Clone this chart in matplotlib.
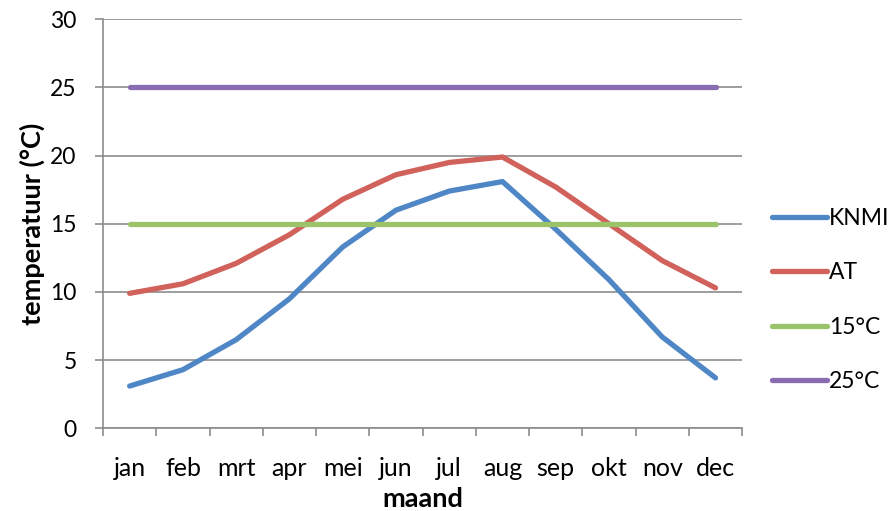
import numpy as np
import matplotlib.pyplot as plt

plt.rcParams["font.family"] = ["Lato", "DejaVu Sans"]

maanden = ["jan", "feb", "mrt", "apr", "mei", "jun", "jul", "aug", "sep", "okt", "nov", "dec"]
knmi = [3.1, 4.3, 6.5, 9.5, 13.3, 16.0, 17.4, 18.1, 14.6, 10.9, 6.7, 3.7]
at = [9.9, 10.6, 12.1, 14.2, 16.8, 18.6, 19.5, 19.9, 17.7, 15.0, 12.3, 10.3]
grens_15 = [15] * 12
grens_25 = [25] * 12

series = [
    ("KNMI", knmi, "#4F86C6"),
    ("AT", at, "#D0625B"),
    ("15°C", grens_15, "#9BC46A"),
    ("25°C", grens_25, "#8A6DB1"),
]

fig = plt.figure(figsize=(8.92, 5.11), dpi=100)
ax = fig.add_axes([0.1155, 0.1618, 0.7165, 0.8004])

x = np.arange(len(maanden))
for naam, waarden, kleur in series:
    ax.plot(x, waarden, color=kleur, lw=3.8, solid_capstyle="round",
            solid_joinstyle="round", label=naam, zorder=3)

grijs = "#8C8C8C"
ax.set_xlim(-0.5, 11.5)
ax.set_ylim(0, 30)
ax.set_yticks(range(0, 31, 5))
ax.yaxis.grid(True, color=grijs, lw=1.2)
ax.set_axisbelow(True)

# maandnamen in het midden, streepjes op de grenzen tussen de maanden
ax.set_xticks(x)
ax.set_xticklabels(maanden)
ax.set_xticks(np.arange(-0.5, 12, 1), minor=True)
ax.tick_params(axis="x", which="major", length=0, pad=21, labelsize=18)
ax.tick_params(axis="x", which="minor", length=6, width=1.2, color=grijs)
ax.tick_params(axis="y", length=6, width=1.2, color=grijs, pad=13, labelsize=16.5)

for side in ("top", "right"):
    ax.spines[side].set_visible(False)
for side in ("left", "bottom"):
    ax.spines[side].set_color(grijs)
    ax.spines[side].set_linewidth(1.2)

ax.set_ylabel("temperatuur (°C)", fontsize=19.5, fontweight="bold", labelpad=4)
ax.set_xlabel("maand", fontsize=19.5, fontweight="bold", labelpad=5)

ax.legend(loc="center left", bbox_to_anchor=(0.855, 0.413), bbox_transform=fig.transFigure,
          frameon=False, fontsize=16.5, handlelength=2.4, handletextpad=0.1,
          labelspacing=1.45, borderaxespad=0)

fig.savefig("out.png", dpi=100)
